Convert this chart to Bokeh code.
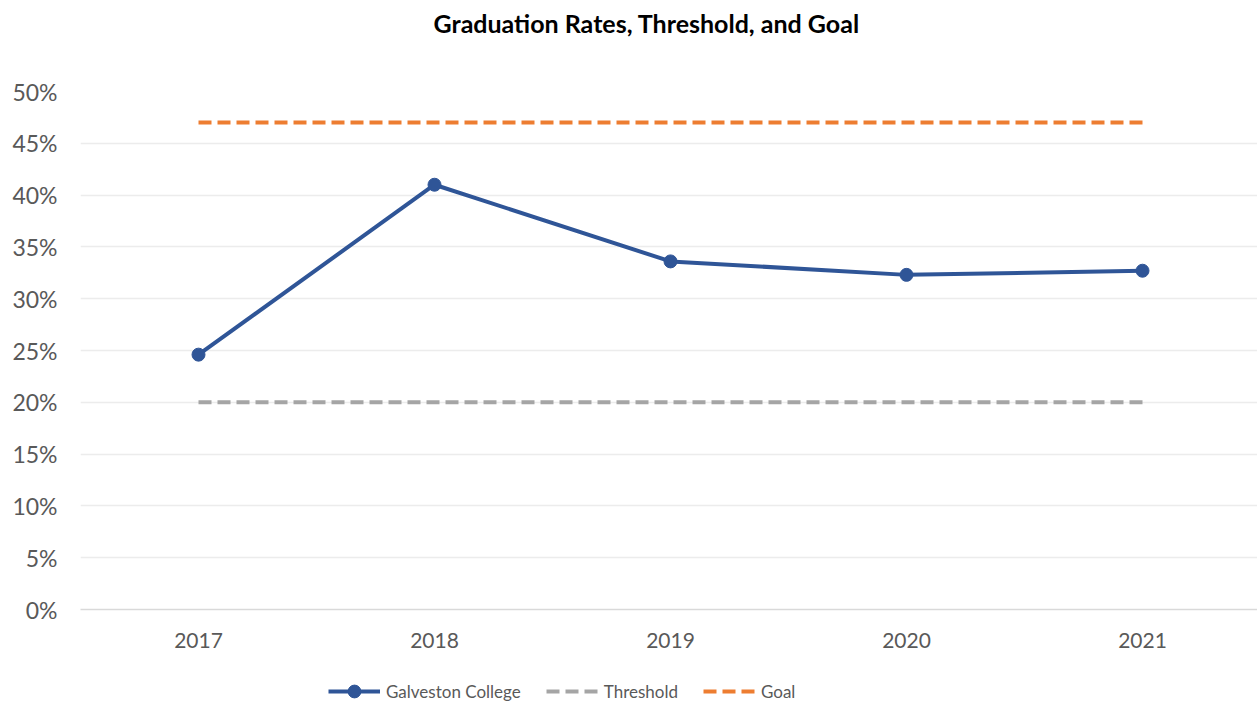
from bokeh.plotting import figure
from bokeh.layouts import column
from bokeh.models import Range1d, FixedTicker, NumeralTickFormatter, Legend, LegendItem
from bokeh.embed import file_html
from bokeh.resources import INLINE

# ---- data ----
years = ["2017", "2018", "2019", "2020", "2021"]
galveston = [0.246, 0.410, 0.336, 0.323, 0.327]
threshold = [0.20, 0.20, 0.20, 0.20, 0.20]
goal = [0.47, 0.47, 0.47, 0.47, 0.47]
y_ticks = [0.0, 0.05, 0.10, 0.15, 0.20, 0.25, 0.30, 0.35, 0.40, 0.45, 0.50]

xs = list(range(len(years)))

W = 1257
H_MAIN, H_LEG = 670, 37
LEFT, TOP = 80, 91
BOTTOM = H_MAIN - 609
frame_w = W - LEFT
band = 236.0

BLUE, GRAY, ORANGE = "#2f5597", "#a5a5a5", "#ed7d31"

p = figure(width=W, height=H_MAIN, output_backend="svg", toolbar_location=None,
           x_range=Range1d(-0.5, -0.5 + frame_w / band), y_range=Range1d(0, 0.5),
           min_border_left=LEFT, min_border_right=0, min_border_bottom=BOTTOM,
           min_border_top=TOP, title="Graduation Rates, Threshold, and Goal")
p.outline_line_color = None
p.background_fill_color = "white"
p.border_fill_color = "white"

p.title.text_font = "Lato"
p.title.text_font_style = "bold"
p.title.text_font_size = "25px"
p.title.text_color = "#000000"
p.title.align = "left"
p.title.offset = 353
p.title.standoff = 0
p.title.padding = dict(left=0, right=0, top=0, bottom=54)

# axes
p.xaxis.ticker = FixedTicker(ticks=xs)
p.xaxis.major_label_overrides = {i: y for i, y in enumerate(years)}
p.xaxis.major_tick_line_color = None
p.xaxis.major_tick_in = 0
p.xaxis.major_tick_out = 0
p.xaxis.minor_tick_line_color = None
p.xaxis.axis_line_color = "#d9d9d9"
p.xaxis.axis_line_width = 1.5
p.xaxis.major_label_text_font = "Lato"
p.xaxis.major_label_text_font_size = "21px"
p.xaxis.major_label_text_color = "#595959"
p.xaxis.major_label_standoff = 23

p.yaxis.ticker = FixedTicker(ticks=y_ticks)
p.yaxis.formatter = NumeralTickFormatter(format="0%")
p.yaxis.major_tick_line_color = None
p.yaxis.major_tick_in = 0
p.yaxis.major_tick_out = 0
p.yaxis.minor_tick_line_color = None
p.yaxis.axis_line_color = None
p.yaxis.major_label_text_font = "Lato"
p.yaxis.major_label_text_font_size = "23px"
p.yaxis.major_label_text_color = "#595959"
p.yaxis.major_label_standoff = 23

p.xgrid.grid_line_color = None
p.ygrid.ticker = FixedTicker(ticks=y_ticks)
p.ygrid.grid_line_color = "#ececec"
p.ygrid.grid_line_width = 1.5

# series
p.line(xs, threshold, line_color=GRAY, line_width=4, line_dash="13 6")
p.line(xs, goal, line_color=ORANGE, line_width=4, line_dash="13 6")
p.line(xs, galveston, line_color=BLUE, line_width=4)
p.scatter(xs, galveston, size=13, fill_color=BLUE, line_color=BLUE)

# ---- legend strip (renderers hidden; only used for legend glyph styles) ----
lf = figure(width=W, height=H_LEG, output_backend="svg", toolbar_location=None,
            x_range=Range1d(0, 1), y_range=Range1d(0, 1),
            x_axis_type=None, y_axis_type=None,
            min_border_left=0, min_border_right=0, min_border_top=0, min_border_bottom=0)
lf.outline_line_color = None
lf.grid.grid_line_color = None
lf.background_fill_color = "white"
lf.border_fill_color = "white"
l_thr = lf.line(xs, threshold, line_color=GRAY, line_width=4, line_dash="13 6", visible=False)
l_goal = lf.line(xs, goal, line_color=ORANGE, line_width=4, line_dash="13 6", visible=False)
l_gl = lf.line(xs, galveston, line_color=BLUE, line_width=4, visible=False)
l_gp = lf.scatter(xs, galveston, size=13, fill_color=BLUE, line_color=BLUE, visible=False)

legend = Legend(items=[
    LegendItem(label="Galveston College", renderers=[l_gl, l_gp]),
    LegendItem(label="Threshold", renderers=[l_thr]),
    LegendItem(label="Goal", renderers=[l_goal]),
], location=(248, 0), orientation="horizontal")
legend.padding = 0
legend.margin = 0
legend.spacing = 25
legend.glyph_width = 52
legend.glyph_height = 32
legend.label_height = 20
legend.label_standoff = 6
legend.label_text_font = "Lato"
legend.label_text_font_size = "17px"
legend.label_text_color = "#595959"
legend.border_line_color = None
legend.background_fill_alpha = 0
lf.add_layout(legend, "center")

layout = column(p, lf, spacing=0)
open("out.html", "w").write(file_html(layout, INLINE))
